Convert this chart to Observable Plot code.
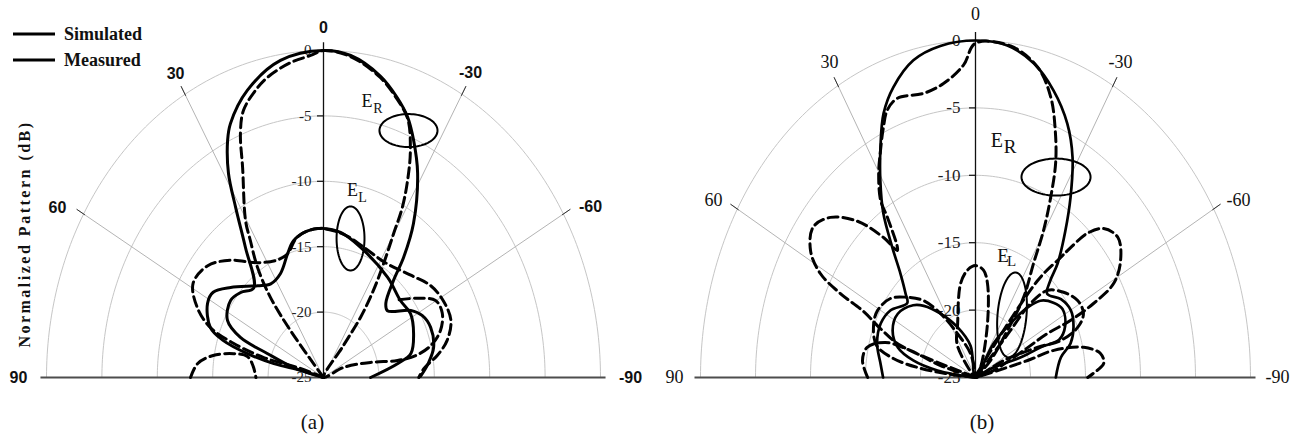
<!DOCTYPE html>
<html><head><meta charset="utf-8">
<script src="https://cdn.jsdelivr.net/npm/d3@7"></script>
<script src="https://cdn.jsdelivr.net/npm/@observablehq/plot@0.6"></script>
<style>
body{margin:0;background:#fff;}
#wrap{position:relative;width:1301px;height:440px;overflow:hidden;}
#wrap svg{position:absolute;top:0;}
</style></head><body><div id="wrap"></div>
<script>
// ---------- tick values ----------
const angleTicks = [0, 30, 60, 90, -30, -60, -90];
const spokeAngles = [30, 60, -30, -60];
const dbTicks = [0, -5, -10, -15, -20, -25];
const legendLabels = ["Simulated", "Measured"];

// ---------- panel (a) series: [angle (deg), normalized pattern (dB)] ----------
const aErSim = [[78,-25],[74.3,-22.2],[70.1,-19.6],[67.8,-16.9],[63.3,-15.3],[54.9,-14.75],[49,-15.1],[42.6,-15.7],[35.3,-12.8],[31.4,-9.8],[28.8,-7.2],[25.5,-4.9],[23.4,-3.85],[17.4,-2.0],[9.1,-0.45],[0,0],[-5.7,-0.26],[-12.6,-1.4],[-17.3,-2.6],[-20.9,-3.7],[-24.1,-5.1],[-28.5,-7.2],[-34.6,-10.7],[-38.2,-13.3],[-40.4,-15.25],[-44.7,-17.0],[-48.5,-17.3],[-56.9,-15.6],[-62.1,-14.9],[-68.4,-14.6],[-77,-14.8],[-83.6,-15.5],[-89.5,-16.25]];
const aErMeas = [[90,-13.0],[84.6,-13.6],[80.4,-14.9],[77.3,-16.7],[76.8,-17.95],[82.4,-18.6],[90,-18.9],null,[40,-25],[39.7,-20.3],[38,-17.2],[35.3,-14.7],[32.2,-12.6],[30.4,-11.1],[24.5,-7.4],[21.9,-4.9],[19.5,-3.35],[15.6,-2.2],[12.4,-1.5],[7.1,-0.75],[2.7,-0.35],[0,0],[-5.7,-0.35],[-12.6,-1.5],[-17.3,-2.7],[-21,-3.8],[-24.3,-5.95],[-26.7,-8.1],[-28.7,-10.2],[-29.9,-12.3],[-31.9,-14.7],[-34.1,-17.0],[-36,-19.3],[-36.3,-22.0],[-36,-25],[-67.1,-23.0],[-74.8,-20.6],[-79,-18.2],[-78.6,-16.5],[-75.8,-15.0],[-71.2,-13.85],[-65.2,-13.2],[-59.8,-13.3],[-54,-14.7],[-47.8,-16.2]];
const aElSim = [[80,-25],[75.4,-22.85],[76.7,-20.4],[75.1,-17.9],[72.6,-15.5],[69.5,-14.1],[61.6,-13.1],[56.8,-13.1],[50.6,-14.15],[40.3,-15.8],[33.6,-16.4],[26,-16.15],[18.9,-15.0],[14.5,-14.2],[7.3,-13.7],[0,-13.6],[-7.9,-13.8],[-18.6,-14.5],[-37.1,-15.4],[-49.7,-15.9],[-58.1,-15.75],[-67.5,-16.2],[-76.9,-16.9],[-80.9,-18.2],[-90,-20.75]];
const aElMeas = [[80,-25],[71.6,-22.8],[74.2,-19.4],[72.2,-16.5],[69.5,-14.1],[64.8,-12.4],[58.5,-11.2],[50.7,-11.5],[43.2,-12.7],[34.1,-14.4],[24.9,-15.1],[18.9,-15.0],[12.4,-14.0],[2.7,-13.6],[-9.4,-13.9],[-20,-14.4],[-32.5,-14.6],[-45.2,-13.9],[-54,-13.05],[-61.5,-12.7],[-69.2,-12.7],[-75.8,-13.5],[-80.7,-14.6],[-85.6,-15.9],[-90,-16.4]];

// ---------- panel (b) series ----------
const bErSim = [[90,-16.6],[83.1,-16.3],[74.2,-15.7],[65.1,-15.5],[57.3,-15.8],[48.4,-16.7],[45.6,-16.1],[41.5,-14.7],[38.1,-12.75],[34.5,-10.2],[30.6,-8.0],[26.9,-5.9],[23.1,-3.7],[19.1,-2.2],[13.5,-0.8],[7.4,-0.2],[0,0],[-6.7,-0.2],[-12.8,-1.1],[-18.4,-2.55],[-23.9,-4.4],[-28.4,-6.45],[-32.9,-9.1],[-36.9,-11.4],[-41.4,-13.7],[-43.4,-15.1],[-46.4,-16.0],[-53.2,-15.3],[-60.1,-15.0],[-67.4,-15.35],[-73.7,-16.0],[-79.2,-17.1],[-90,-17.7]];
const bErMeas = [[90,-15.2],[83,-14.65],[77.2,-14.9],[72.4,-16.4],[71.3,-18.8],[74.4,-21.7],[72,-25],[70.8,-17.8],[67.2,-15.6],[64.3,-13.7],[63.1,-11.2],[61.3,-8.9],[57.9,-7.3],[52.9,-6.5],[48,-7.25],[42.8,-9.2],[38.8,-11.7],[37,-13.2],[34,-10.7],[33.3,-9.3],[30.2,-7.5],[27.2,-6.1],[24.3,-4.65],[22,-3.6],[18.9,-3.1],[12.6,-3.4],[7.6,-3.0],[2.7,-1.8],[0,-0.2],[-7.4,-0.2],[-13.8,-1.3],[-18.2,-3.1],[-21.6,-5.3],[-24.6,-7.5],[-27.1,-10.0],[-29.6,-12.5],[-31.9,-15.0],[-36.3,-17.6],[-39.8,-20.5],[-47,-23.1],[-45,-25],[-38.1,-15.9],[-41,-13.2],[-41.9,-12.05],[-43.6,-10.2],[-46.5,-8.95],[-51.2,-8.4],[-56.6,-9.2],[-60.9,-10.6],[-62.9,-12.95],[-63.9,-15.4],[-63.5,-17.7],[-65.4,-20.2],[-72.4,-23.3],[-75,-25],[-75.1,-20.1],[-74.2,-17.6],[-77.2,-14.9],[-81.1,-13.5],[-84.9,-13.3],[-88.4,-14.3],[-90,-14.8]];
const bElSim = [[82,-25],[81.4,-21.5],[77.4,-19.2],[72.5,-17.6],[65.2,-16.7],[56.2,-16.5],[46.6,-17.2],[41.5,-17.9],[33.8,-19.3],[23.8,-20.9],[10.8,-22.6],[10,-25],[-33.1,-22.0],[-39.2,-19.5],[-42.3,-18.0],[-46,-16.8],[-51.9,-16.0],[-57.3,-15.6],[-64.9,-16.0],[-69.8,-16.9],[-69.3,-18.5],[-70.1,-20.5],[-65.7,-23.2],[-70,-25]];
const bElMeas = [[85,-25],[83.7,-22.25],[82,-19.7],[79.3,-17.4],[75.2,-15.7],[67.4,-14.96],[60.9,-14.8],[52.8,-15.3],[46.2,-16.4],[39.6,-17.6],[33.8,-19.3],[26.7,-21.35],[14.3,-23.2],[10,-25],[34.7,-22.1],[22.2,-20.7],[11,-17.9],[5.2,-17.0],[0,-16.7],[-5.2,-17.0],[-8.9,-17.95],[-15.2,-20.85],[-31,-24.1],[-40,-25],[-63.7,-22.2],[-68.4,-18.9],[-70.5,-16.8],[-68.2,-15.0],[-64.2,-14.1],[-58.4,-14.1],[-51.7,-14.8],[-45.4,-15.8],[-42.3,-17.6],[-42.3,-20.3],[-42.6,-23.0],[-42,-25]];

// ---------- helpers ----------
const SERIF = "Liberation Serif, Times New Roman, serif";
const SANS = "Liberation Sans, Arial, sans-serif";
function polar(a, db) {
  const r = Math.max(0, db + 25), t = a * Math.PI / 180;
  return {x: -r * Math.sin(t), y: r * Math.cos(t)};
}
const pts = arr => arr.map(d => d ? polar(d[0], d[1]) : {x: NaN, y: NaN});
function ellipse(e) {
  return d3.range(0, 361, 4).map(t => {
    const u = t * Math.PI / 180;
    return {x: e.cx + e.rx * Math.cos(u) + (e.shear || 0) * Math.sin(u), y: e.cy + e.ry * Math.sin(u)};
  });
}

function drawPanel(cfg) {
  const ax = cfg.rx / 25, ay = cfg.ry / 25;
  const ringR = dbTicks.filter(d => d > -25).map(d => d + 25);
  const rings = ringR.flatMap(r => d3.range(-90, 90.01, 1).map(a => ({r, ...polar(a, r - 25)})));
  const spokes = spokeAngles.flatMap(a => [{a, ...polar(a, -25)}, {a, ...polar(a, 0.6)}]);
  const spokeEnds = spokeAngles.flatMap(a => [{a, ...polar(a, -0.1)}, {a, ...polar(a, 0.7)}]);
  const lab = angleTicks.map(a => {
    const p = polar(a, 0.5), o = cfg.labelOffsets[a];
    return {a, x: p.x + o[0] / ax, y: p.y - o[1] / ay};
  });
  const lineOpt = (dash, w) => ({x: "x", y: "y", stroke: "#000", strokeWidth: w, curve: "catmull-rom", strokeDasharray: dash ? "10,5" : null, strokeLinejoin: "round"});
  const marks = [
    Plot.line(rings, {x: "x", y: "y", z: "r", stroke: "#c6c6c6", strokeWidth: 1}),
    Plot.line(spokes, {x: "x", y: "y", z: "a", stroke: "#b4b4b4", strokeWidth: 1}),
    Plot.line(spokeEnds, {x: "x", y: "y", z: "a", stroke: "#333", strokeWidth: 1}),
    Plot.ruleY([0], {x1: -25.5, x2: 25.5, stroke: "#4d4d4d", strokeWidth: 2}),
    Plot.ruleX([0], {y1: 0, y2: 25.6, stroke: "#111", strokeWidth: 1.3}),
    Plot.ruleY(ringR, {y: d => d, x1: -6 / ax, x2: 0, stroke: "#111", strokeWidth: 1.2}),
    Plot.text(dbTicks, {x: 0, y: d => d + 25, text: d => String(d), textAnchor: "end", dx: cfg.dbDx, fontSize: cfg.dbSize, fontFamily: SERIF, fill: "#222"}),
    Plot.text(lab, {x: "x", y: "y", text: d => String(d.a), fontSize: cfg.angSize, fontFamily: cfg.angFont, fontWeight: cfg.angWeight, fill: "#111"}),
    Plot.line(pts(cfg.elMeas), lineOpt(true, 3)),
    Plot.line(pts(cfg.erMeas), lineOpt(true, 3)),
    Plot.line(pts(cfg.elSim), lineOpt(false, cfg.solidW)),
    Plot.line(pts(cfg.erSim), lineOpt(false, cfg.solidW)),
    ...cfg.ellipses.map(e => Plot.line(ellipse(e), {x: "x", y: "y", stroke: "#000", strokeWidth: 2})),
    ...cfg.notes.flatMap(n => [
      Plot.text([n], {x: "ex", y: "ey", text: () => "E", fontSize: n.es, fontFamily: SERIF, fill: "#111"}),
      Plot.text([n], {x: "sx", y: "sy", text: "sub", fontSize: n.ss, fontFamily: SERIF, fill: "#111"})
    ])
  ];
  const svg = Plot.plot({
    width: cfg.width, height: 440,
    x: {domain: [-25, 25], range: [cfg.cx - cfg.rx, cfg.cx + cfg.rx], axis: null},
    y: {domain: [0, 25], range: [cfg.cy, cfg.cy - cfg.ry], axis: null},
    style: {background: "transparent", overflow: "visible"},
    marks
  });
  svg.style.left = cfg.left + "px";
  document.getElementById("wrap").appendChild(svg);
}

drawPanel({
  left: 0, width: 650, cx: 323, cy: 377, rx: 277, ry: 327, solidW: 3,
  erSim: aErSim, erMeas: aErMeas, elSim: aElSim, elMeas: aElMeas,
  dbDx: -12, dbSize: 15, angSize: 16, angFont: SANS, angWeight: "bold",
  labelOffsets: {0: [0, -16.5], 30: [-6.7, -15.2], 60: [-21.3, -3.2], 90: [-22.5, 0], "-30": [5.7, -16.2], "-60": [22.3, -4.2], "-90": [24.5, 0]},
  ellipses: [{cx: 7.67, cy: 18.88, rx: 2.62, ry: 1.26}, {cx: 2.44, cy: 10.63, rx: 1.26, ry: 2.45}],
  notes: [
    {ex: 3.92, ey: 21.1, sx: 4.92, sy: 20.57, sub: "R", es: 18, ss: 14},
    {ex: 2.62, ey: 14.33, sx: 3.52, sy: 13.76, sub: "L", es: 18, ss: 14}
  ]
});
drawPanel({
  left: 650, width: 651, cx: 325, cy: 377, rx: 275, ry: 337, solidW: 2.7,
  erSim: bErSim, erMeas: bErMeas, elSim: bElSim, elMeas: bElMeas,
  dbDx: -15, dbSize: 17, angSize: 18, angFont: SERIF, angWeight: "normal",
  labelOffsets: {0: [0, -19.3], 30: [-5.75, -17.3], 60: [-19.1, -5.1], 90: [-20.5, 0], "-30": [4.75, -17.3], "-60": [20.1, -5.1], "-90": [21.5, 0]},
  ellipses: [{cx: 7.32, cy: 14.87, rx: 3.14, ry: 1.37}, {cx: 3.32, cy: 4.64, rx: 1.32, ry: 3.15, shear: 0.3}],
  notes: [
    {ex: 1.95, ey: 17.54, sx: 3.14, sy: 17.1, sub: "R", es: 20, ss: 19},
    {ex: 2.5, ey: 9.05, sx: 3.27, sy: 8.6, sub: "L", es: 19, ss: 15}
  ]
});

// ---------- legend, axis title, captions ----------
const ov = d3.select("#wrap").append("svg").attr("width", 1301).attr("height", 440).style("left", "0px").style("pointer-events", "none");
legendLabels.forEach((t, i) => {
  const y = 34 + i * 26;
  ov.append("line").attr("x1", 13).attr("x2", 55).attr("y1", y).attr("y2", y).attr("stroke", "#000").attr("stroke-width", 3);
  ov.append("text").attr("x", 64).attr("y", y + 6).attr("font-family", SERIF).attr("font-weight", "bold").attr("font-size", 18).attr("fill", "#111").text(t);
});
ov.append("text").attr("transform", "translate(29.5,234) rotate(-90)").attr("text-anchor", "middle")
  .attr("font-family", SERIF).attr("font-weight", "bold").attr("font-size", 16).attr("letter-spacing", "2.5px").attr("fill", "#111")
  .text("Normalized Pattern (dB)");
[["(a)", 312.5], ["(b)", 982]].forEach(([t, x]) => {
  ov.append("text").attr("x", x).attr("y", 429).attr("text-anchor", "middle").attr("font-family", SERIF).attr("font-size", 21).attr("fill", "#111").text(t);
});
</script></body></html>
